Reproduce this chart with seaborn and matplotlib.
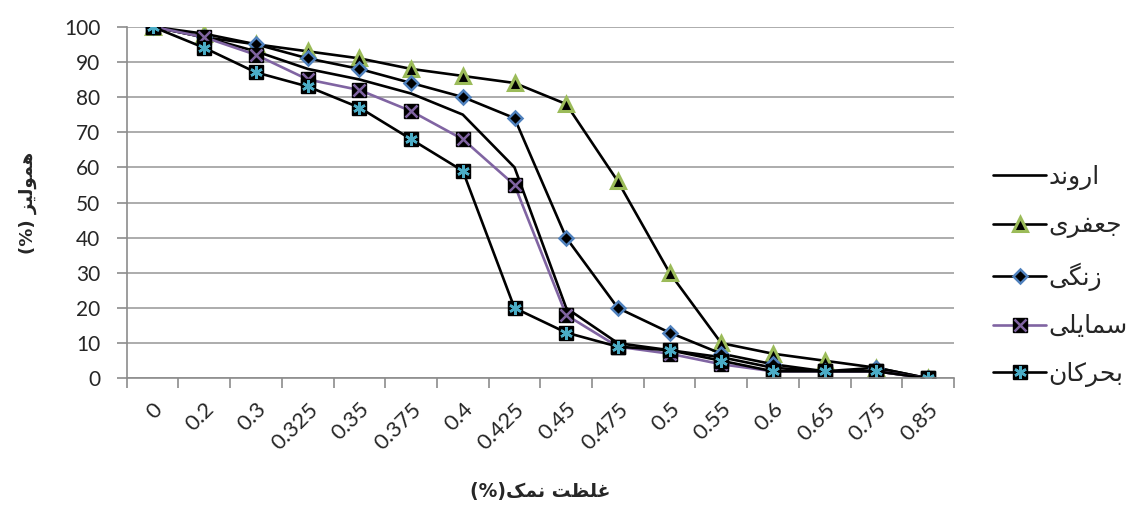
import numpy as np
import pandas as pd
import matplotlib
matplotlib.use("Agg")
import matplotlib.pyplot as plt
from matplotlib.lines import Line2D
from matplotlib.legend_handler import HandlerTuple
from matplotlib.ticker import FixedLocator
import seaborn as sns

# ---- data -------------------------------------------------------------
concentrations = ["0", "0.2", "0.3", "0.325", "0.35", "0.375", "0.4", "0.425",
                  "0.45", "0.475", "0.5", "0.55", "0.6", "0.65", "0.75", "0.85"]

arvand   = [100, 97, 93, 88, 85, 81, 75, 60, 20, 10, 8, 6, 3, 2, 2, 0]
jafari   = [100, 98, 95, 93, 91, 88, 86, 84, 78, 56, 30, 10, 7, 5, 3, 0]
zangi    = [100, 97, 95, 91, 88, 84, 80, 74, 40, 20, 13, 7, 4, 2, 3, 0]
samayli  = [100, 97, 92, 85, 82, 76, 68, 55, 18, 9, 7, 4, 2, 2, 2, 0]
bahrkan  = [100, 94, 87, 83, 77, 68, 59, 20, 13, 9, 8, 5, 2, 2, 2, 0]

series_names = ["اروند", "جعفری", "زنگی", "سمایلی", "بحرکان"]
x_title = "غلظت نمک(%)"
y_title = "همولیز (%)"

# ---- minimal Persian shaping (presentation forms, visual order) --------
_FORMS = {
    "ا": (0xFE8D, 0xFE8E, None, None),
    "ب": (0xFE8F, 0xFE90, 0xFE91, 0xFE92),
    "ت": (0xFE95, 0xFE96, 0xFE97, 0xFE98),
    "ج": (0xFE9D, 0xFE9E, 0xFE9F, 0xFEA0),
    "ح": (0xFEA1, 0xFEA2, 0xFEA3, 0xFEA4),
    "د": (0xFEA9, 0xFEAA, None, None),
    "ر": (0xFEAD, 0xFEAE, None, None),
    "ز": (0xFEAF, 0xFEB0, None, None),
    "س": (0xFEB1, 0xFEB2, 0xFEB3, 0xFEB4),
    "ظ": (0xFEC5, 0xFEC6, 0xFEC7, 0xFEC8),
    "ع": (0xFEC9, 0xFECA, 0xFECB, 0xFECC),
    "غ": (0xFECD, 0xFECE, 0xFECF, 0xFED0),
    "ف": (0xFED1, 0xFED2, 0xFED3, 0xFED4),
    "ل": (0xFEDD, 0xFEDE, 0xFEDF, 0xFEE0),
    "م": (0xFEE1, 0xFEE2, 0xFEE3, 0xFEE4),
    "ن": (0xFEE5, 0xFEE6, 0xFEE7, 0xFEE8),
    "ه": (0xFEE9, 0xFEEA, 0xFEEB, 0xFEEC),
    "و": (0xFEED, 0xFEEE, None, None),
    "ک": (0xFB8E, 0xFB8F, 0xFB90, 0xFB91),
    "گ": (0xFB92, 0xFB93, 0xFB94, 0xFB95),
    "ی": (0xFBFC, 0xFBFD, 0xFBFE, 0xFBFF),
}


def _joins_forward(ch):
    return ch in _FORMS and _FORMS[ch][2] is not None


def rtl(text):
    out = []
    for i, ch in enumerate(text):
        if ch not in _FORMS:
            out.append(ch)
            continue
        prev = text[i - 1] if i > 0 else ""
        nxt = text[i + 1] if i + 1 < len(text) else ""
        jp = _joins_forward(prev)
        jn = _joins_forward(ch) and nxt in _FORMS
        iso, fin, ini, med = _FORMS[ch]
        if jp and jn:
            cp = med
        elif jp:
            cp = fin
        elif jn:
            cp = ini
        else:
            cp = iso
        out.append(chr(cp))
    mirror = {"(": ")", ")": "("}
    return "".join(mirror.get(c, c) for c in reversed(out))


# ---- styling ----------------------------------------------------------
sns.set_theme(style="white")
plt.rcParams["font.family"] = ["Lato", "DejaVu Sans"]

GREEN = "#9BBB59"
BLUE = "#4F81BD"
PURPLE = "#8064A2"
CYAN = "#4BACC6"
GRID = "#A6A6A6"
AXIS = "#8C8C8C"

fig = plt.figure(figsize=(11.47, 5.07), dpi=100)
ax = fig.add_axes([0.1105, 0.2538, 0.7212, 0.6935])

df = pd.DataFrame({"x": concentrations, "arvand": arvand, "jafari": jafari,
                   "zangi": zangi, "samayli": samayli, "bahrkan": bahrkan})

lw = 1.9
common = dict(data=df, x="x", ax=ax, sort=False, legend=False)

sns.lineplot(y="arvand", color="black", linewidth=lw, **common)
sns.lineplot(y="jafari", color="black", linewidth=lw, marker="^", markersize=10.5,
             markerfacecolor="black", markeredgecolor=GREEN, markeredgewidth=2.2,
             **common)
sns.lineplot(y="zangi", color="black", linewidth=lw, marker="D", markersize=7.5,
             markerfacecolor="black", markeredgecolor=BLUE, markeredgewidth=1.8,
             **common)
sns.lineplot(y="samayli", color=PURPLE, linewidth=lw, marker="s", markersize=10,
             markerfacecolor="black", markeredgecolor="black", markeredgewidth=1,
             **common)
sns.lineplot(y="samayli", color=PURPLE, linestyle="", marker="x", markersize=8,
             markeredgecolor=PURPLE, markeredgewidth=1.8, **common)
sns.lineplot(y="bahrkan", color="black", linewidth=lw, marker="s", markersize=10,
             markerfacecolor="black", markeredgecolor="black", markeredgewidth=1,
             **common)
sns.lineplot(y="bahrkan", color=CYAN, linestyle="", marker=(6, 2, 0), markersize=9,
             markeredgecolor=CYAN, markeredgewidth=1.8, **common)

# ---- axes -------------------------------------------------------------
n = len(concentrations)
ax.set_xlim(-0.5, n - 0.5)
ax.set_ylim(0, 100)
ax.set_xticks(range(n))
ax.set_xticklabels(concentrations, rotation=45, ha="right", va="top",
                   rotation_mode="anchor", fontsize=16)
ax.xaxis.set_minor_locator(FixedLocator(np.arange(-0.5, n, 1.0)))
ax.tick_params(axis="x", which="major", length=0, pad=15)
ax.tick_params(axis="x", which="minor", length=7, width=1.2, color=AXIS,
               direction="out", bottom=True)
ax.set_yticks(range(0, 101, 10))
ax.tick_params(axis="y", which="major", length=7, width=1.2, color=AXIS,
               direction="out", left=True, pad=12, labelsize=15)
ax.yaxis.grid(True, color=GRID, linewidth=1.3)
ax.xaxis.grid(False)
ax.set_axisbelow(True)
for side in ("top", "right"):
    ax.spines[side].set_visible(False)
for side in ("left", "bottom"):
    ax.spines[side].set_color(AXIS)
    ax.spines[side].set_linewidth(1.2)

ax.set_xlabel(rtl(x_title), family="DejaVu Sans", fontweight="bold",
              fontsize=13.5)
ax.xaxis.set_label_coords(0.5, -0.295)
ax.set_ylabel(rtl(y_title), family="DejaVu Sans", fontweight="bold",
              fontsize=13)
ax.yaxis.set_label_coords(-0.108, 0.5)

# ---- legend -----------------------------------------------------------
def mk(**kw):
    return Line2D([], [], **kw)

handles = [
    mk(color="black", linewidth=lw),
    mk(color="black", linewidth=lw, marker="^", markersize=10.5,
       markerfacecolor="black", markeredgecolor=GREEN, markeredgewidth=2.2),
    mk(color="black", linewidth=lw, marker="D", markersize=7.5,
       markerfacecolor="black", markeredgecolor=BLUE, markeredgewidth=1.8),
    (mk(color=PURPLE, linewidth=lw, marker="s", markersize=10,
        markerfacecolor="black", markeredgecolor="black"),
     mk(color=PURPLE, linestyle="", marker="x", markersize=8,
        markeredgecolor=PURPLE, markeredgewidth=1.8)),
    (mk(color="black", linewidth=lw, marker="s", markersize=10,
        markerfacecolor="black", markeredgecolor="black"),
     mk(color=CYAN, linestyle="", marker=(6, 2, 0), markersize=9,
        markeredgecolor=CYAN, markeredgewidth=1.8)),
]
leg = fig.legend(handles, [rtl(s) for s in series_names],
                 handler_map={tuple: HandlerTuple(ndivide=1, pad=0)},
                 loc="center left", bbox_to_anchor=(0.866, 0.456),
                 frameon=False, prop={"family": "DejaVu Sans", "size": 18},
                 handlelength=2.1, handletextpad=0.1, labelspacing=0.95,
                 borderaxespad=0, borderpad=0)

fig.savefig("out.png", dpi=100, facecolor="white")
